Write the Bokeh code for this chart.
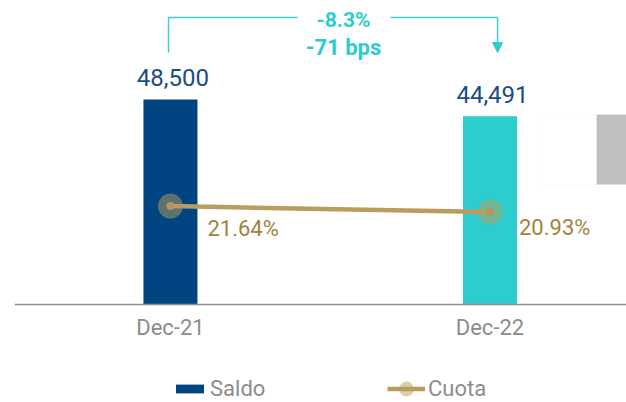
from bokeh.plotting import figure
from bokeh.models import (Range1d, FixedTicker, ColumnDataSource, Legend, LegendItem,
                          Label, Arrow, NormalHead, BoxAnnotation)
from bokeh.core.properties import value
from bokeh.embed import file_html
from bokeh.resources import INLINE

# ---- data ----
categories = ["Dec-21", "Dec-22"]
saldo = [48500, 44491]
cuota = [21.64, 20.93]

# ---- styles ----
bar_colors = ["#004481", "#2DCCCD"]
TURQ = "#2DCCCD"
GOLD = "#BA9D5E"
GOLD_TXT = "#A2833C"
GRAY_TXT = "#8C8C8C"
NAVY_TXT = "#1A4C86"
FONT = "Roboto"

x = list(range(len(categories)))
src = ColumnDataSource(dict(
    x=x, saldo=saldo, cuota=cuota,
    saldo_lbl=[f"{v:,}" for v in saldo],
    cuota_lbl=[f"{v:.2f}%" for v in cuota],
    color=bar_colors,
    pct_dx=[37, 29], pct_dy=[22, 15],
))

p = figure(width=626, height=402, x_range=Range1d(-0.488, 1.4272),
           y_range=Range1d(-23176, 70000),
           y_axis_location=None, toolbar_location=None, output_backend="svg",
           min_border_left=14, min_border_right=0, min_border_top=8, min_border_bottom=0)
p.outline_line_color = None
p.grid.visible = False
p.extra_y_ranges = {"pct": Range1d(-1.588, 45)}

# decorative fragments at right edge
p.add_layout(BoxAnnotation(left=1.152, right=1.3336, top=44933, bottom=28379,
                           fill_color="white", fill_alpha=1, line_color="#EDEDED", line_width=1))
p.add_layout(BoxAnnotation(left=1.3336, right=1.4272, top=44933, bottom=28379,
                           fill_color="#BFBFBF", fill_alpha=1, line_color=None))

bars = p.vbar(x="x", top="saldo", width=0.169, bottom=0, source=src,
              fill_color="color", line_color=None)
p.text(x="x", y="saldo", text="saldo_lbl", source=src, text_font=value(FONT),
       text_font_size="24px", text_color=NAVY_TXT, text_align="center",
       text_baseline="alphabetic", x_offset=2.5, y_offset=-22)

halo = p.scatter(x="x", y="cuota", source=src, y_range_name="pct", size=25,
                 fill_color=GOLD, fill_alpha=0.5, line_color=None)
line = p.line(x="x", y="cuota", source=src, y_range_name="pct", line_color=GOLD, line_width=4.5)
dot = p.scatter(x="x", y="cuota", source=src, y_range_name="pct", size=8,
                fill_color="#B6975A", line_color=None)
p.text(x="x", y="cuota", text="cuota_lbl", source=src, y_range_name="pct",
       text_font=value(FONT), text_font_size="22px", text_color=GOLD_TXT,
       text_align="left", text_baseline="alphabetic", x_offset="pct_dx", y_offset="pct_dy")

# change annotation (computed from the data)
chg = (saldo[1] / saldo[0] - 1) * 100
bps = round((cuota[1] - cuota[0]) * 100)
y_top, y_bot = 67873, 59595
xl, xr = x[0] - 0.006, x[1] + 0.0237
p.line(x=[xl, xl, 0.398], y=[y_bot, y_top, y_top], line_color="#3FCFD0", line_width=1.5)
p.line(x=[0.689, xr], y=[y_top, y_top], line_color="#3FCFD0", line_width=1.5)
p.add_layout(Arrow(x_start=xr, y_start=y_top, x_end=xr, y_end=y_bot,
                   line_color="#3FCFD0", line_width=1.5,
                   end=NormalHead(size=10, fill_color=TURQ, line_color=TURQ)))
p.add_layout(Label(x=0.5417, y=67281, text=f"{chg:.1f}%", text_font=FONT,
                   text_font_size="21px", text_font_style="bold", text_color=TURQ,
                   text_align="center", text_baseline="middle"))
p.add_layout(Label(x=0.5417, y=60778, text=f"{bps} bps", text_font=FONT,
                   text_font_size="22px", text_font_style="bold", text_color=TURQ,
                   text_align="center", text_baseline="middle"))

# x axis, pinned at zero inside the frame
ax = p.xaxis[0]
ax.fixed_location = 0
ax.ticker = FixedTicker(ticks=x)
ax.major_label_overrides = {i: c for i, c in zip(x, categories)}
ax.major_label_text_font = FONT
ax.major_label_text_font_size = "22px"
ax.major_label_text_color = GRAY_TXT
ax.major_tick_line_color = None
ax.minor_tick_line_color = None
ax.major_tick_out = 0
ax.major_tick_in = 0
ax.axis_line_color = "#8F8F8F"
ax.axis_line_width = 1.5
ax.major_label_standoff = 11

# legends (one per series so each key gets its own shape)
def add_legend(item, loc, gw, gh):
    lg = Legend(items=[item], location=loc, orientation="horizontal",
                glyph_width=gw, glyph_height=gh, label_height=37, label_standoff=3,
                padding=0, margin=0, border_line_color=None, background_fill_alpha=0,
                label_text_font=FONT, label_text_font_size="22px", label_text_color=GRAY_TXT)
    p.add_layout(lg, "center")

add_legend(LegendItem(label="Saldo", renderers=[bars], index=0), (158, -5), 35, 11)
add_legend(LegendItem(label="Cuota", renderers=[halo, line]), (373, -5), 38, 37)

open("out.html", "w").write(file_html(p, INLINE))
